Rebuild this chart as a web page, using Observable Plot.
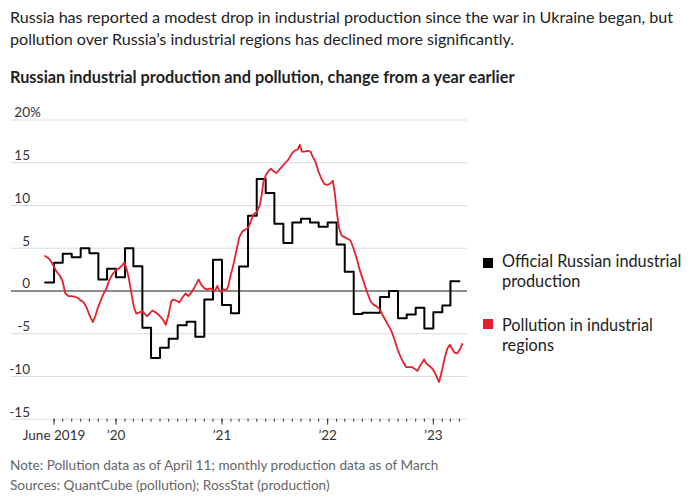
<!DOCTYPE html>
<html>
<head>
<meta charset="utf-8">
<script src="https://cdn.jsdelivr.net/npm/d3@7"></script>
<script src="https://cdn.jsdelivr.net/npm/@observablehq/plot@0.6"></script>
<style>
  body { margin:0; width:690px; height:502px; position:relative; background:#fff; font-family: Lato, "Noto Sans", sans-serif; overflow:hidden; }
  .abs { position:absolute; white-space:nowrap; }
  #title { left:10px; top:6px; font-size:16.1px; line-height:22px; color:#222; }
  #sub { left:10px; top:67px; font-size:16.3px; line-height:20px; font-weight:bold; color:#222; }
  #note { left:10px; top:455px; font-size:13.6px; line-height:20px; color:#666; }
  .leg { font-size:16.3px; line-height:20px; color:#222; }
  .sw { position:absolute; width:10px; height:10px; }
</style>
</head>
<body>
<div id="title" class="abs">Russia has reported a modest drop in industrial production since the war in Ukraine began, but<br>pollution over Russia’s industrial regions has declined more significantly.</div>
<div id="sub" class="abs">Russian industrial production and pollution, change from a year earlier</div>
<div id="chart" class="abs" style="left:0;top:100px;"></div>
<div class="sw" style="left:483px;top:258px;background:#000;"></div>
<div class="abs leg" style="left:502px;top:251px;">Official Russian industrial<br>production</div>
<div class="sw" style="left:483px;top:319px;background:#e6212d;"></div>
<div class="abs leg" style="left:502px;top:315px;">Pollution in industrial<br>regions</div>
<div id="note" class="abs">Note: Pollution data as of April 11; monthly production data as of March<br>Sources: QuantCube (pollution); RossStat (production)</div>
<script>
// Official Russian industrial production, % change from a year earlier (monthly)
const productionMonths = [
  "2019-05","2019-06","2019-07","2019-08","2019-09","2019-10","2019-11","2019-12",
  "2020-01","2020-02","2020-03","2020-04","2020-05","2020-06","2020-07","2020-08","2020-09","2020-10","2020-11","2020-12",
  "2021-01","2021-02","2021-03","2021-04","2021-05","2021-06","2021-07","2021-08","2021-09","2021-10","2021-11","2021-12",
  "2022-01","2022-02","2022-03","2022-04","2022-05","2022-06","2022-07","2022-08","2022-09","2022-10","2022-11","2022-12",
  "2023-01","2023-02","2023-03"
];
const productionValues = [
  1.0, 3.3, 4.35, 3.95, 5.0, 4.4, 1.35, 2.6,
  1.6, 5.0, 2.9, -4.3, -7.85, -6.65, -5.6, -4.0, -3.6, -5.35, -1.0, 3.65,
  -1.65, -2.6, 2.85, 8.8, 13.1, 11.45, 7.85, 5.6, 8.0, 8.45, 8.0, 7.5,
  8.0, 5.45, 2.25, -2.7, -2.55, -2.55, -0.7, 0.0, -3.2, -2.75, -1.95, -4.4,
  -2.5, -1.7, 1.15
];

// Pollution in industrial regions, % change from a year earlier
const pollutionDates = [
  "2019-05-01","2019-05-12","2019-05-19","2019-05-30","2019-06-09","2019-06-19","2019-06-30","2019-07-10","2019-07-20","2019-07-31",
  "2019-08-14","2019-08-24","2019-08-31","2019-09-10","2019-09-21","2019-10-01","2019-10-13","2019-10-22","2019-10-29","2019-11-08",
  "2019-11-18","2019-11-29","2019-12-09","2019-12-19","2019-12-30","2020-01-09","2020-01-20","2020-01-30","2020-02-08","2020-02-14",
  "2020-02-20","2020-02-27","2020-03-03","2020-03-11","2020-03-22","2020-04-01","2020-04-11","2020-04-18","2020-04-29","2020-05-06",
  "2020-05-16","2020-05-26","2020-06-06","2020-06-13","2020-06-21","2020-06-30","2020-07-10","2020-07-17","2020-07-28","2020-08-07",
  "2020-08-17","2020-08-28","2020-09-07","2020-09-17","2020-09-28","2020-10-12","2020-10-22","2020-11-01","2020-11-12","2020-11-22",
  "2020-12-02","2020-12-09","2020-12-16","2020-12-23","2020-12-30","2021-01-06","2021-01-16","2021-01-23","2021-01-30","2021-02-09",
  "2021-02-20","2021-03-02","2021-03-13","2021-03-23","2021-04-02","2021-04-09","2021-04-20","2021-04-30","2021-05-11","2021-05-17",
  "2021-05-24","2021-06-02","2021-06-10","2021-06-19","2021-06-28","2021-07-08","2021-07-18","2021-07-29","2021-08-08","2021-08-19",
  "2021-08-29","2021-09-08","2021-09-19","2021-09-27","2021-10-04","2021-10-13","2021-10-23","2021-11-03","2021-11-09","2021-11-20",
  "2021-11-30","2021-12-11","2021-12-21","2021-12-31","2022-01-11","2022-01-19","2022-01-26","2022-02-02","2022-02-09","2022-02-18",
  "2022-02-28","2022-03-11","2022-03-21","2022-03-31","2022-04-11","2022-04-21","2022-05-01","2022-05-12","2022-05-19","2022-05-29",
  "2022-06-08","2022-06-19","2022-06-29","2022-07-09","2022-07-20","2022-07-30","2022-08-09","2022-08-20","2022-08-30","2022-09-10",
  "2022-09-20","2022-09-29","2022-10-09","2022-10-18","2022-10-28","2022-11-07","2022-11-14","2022-11-21","2022-11-30","2022-12-08",
  "2022-12-19","2022-12-29","2023-01-09","2023-01-15","2023-01-21","2023-01-27","2023-02-03","2023-02-10","2023-02-19","2023-02-27",
  "2023-03-06","2023-03-15","2023-03-24","2023-03-31","2023-04-06","2023-04-11"
];
const pollutionValues = [
  4.1, 3.85, 3.6, 2.95, 2.3, 1.9, 1.2, -0.3, -0.6, -0.6,
  -0.7, -0.85, -1.1, -1.3, -1.9, -2.8, -3.65, -2.9, -2.1, -1.2,
  -0.4, 0.3, 1.3, 1.9, 2.4, 2.6, 2.9, 3.35, 2.4, 1.5,
  0.3, -1.0, -1.9, -2.65, -2.5, -2.4, -2.75, -2.95, -2.5, -2.3,
  -2.5, -2.75, -3.15, -3.45, -3.95, -2.85, -1.2, -1.0, -1.15, -1.35,
  -0.8, -0.3, -0.6, -0.2, 0.4, 1.35, 0.7, 0.3, 0.2, 0.3,
  0.05, 0.1, 0.6, 0.0, -0.1, 0.2, 0.1, 0.6, 1.7, 3.0,
  4.75, 6.3, 7.0, 7.2, 7.4, 8.0, 9.0, 9.15, 9.95, 11.0,
  12.7, 13.6, 14.0, 14.3, 14.0, 13.8, 14.2, 14.6, 15.0, 15.4,
  16.0, 16.4, 16.55, 17.1, 16.3, 16.3, 16.4, 16.3, 15.8, 15.1,
  14.0, 13.1, 12.5, 12.4, 12.6, 12.9, 11.35, 9.1, 7.4, 6.5,
  6.3, 6.1, 5.9, 5.0, 3.85, 2.55, 1.5, 0.4, -0.3, -1.2,
  -1.6, -1.8, -2.1, -2.75, -3.45, -4.05, -4.65, -5.7, -6.8, -7.7,
  -8.4, -8.9, -8.9, -8.9, -9.1, -9.35, -8.9, -8.5, -8.0, -8.5,
  -8.8, -9.1, -9.75, -10.25, -10.65, -9.85, -8.8, -7.7, -6.7, -6.3,
  -6.7, -7.2, -7.3, -7.0, -6.6, -6.2
];

// Axis ticks and labels
const yTicks = [-15, -10, -5, 0, 5, 10, 15, 20];
const xLabelDates = ["2019-06-01", "2020-01-01", "2021-01-01", "2022-01-01", "2023-01-01"];
const xLabels = ["June 2019", "’20", "’21", "’22", "’23"];
const xDomain = ["2019-01-05", "2023-04-29"];

const parse = s => new Date(s.length === 7 ? s + "-01T00:00:00Z" : s + "T00:00:00Z");

const production = productionMonths.map((m, i) => ({date: parse(m), value: productionValues[i]}));
// extend last month to the end of that month for the step line
const lastProd = production[production.length - 1];
const productionStep = production.concat([{date: d3.utcMonth.offset(lastProd.date, 1), value: lastProd.value}]);

const pollution = pollutionDates.map((d, i) => ({date: parse(d), value: pollutionValues[i]}));

const labelDates = xLabelDates.map(parse);
const labelMap = new Map(labelDates.map((d, i) => [+d, xLabels[i]]));
const monthTicks = d3.utcMonth.range(parse("2019-06-01"), parse("2023-04-02"));

const red = "#e6212d";

const chart = Plot.plot({
  width: 690,
  height: 350,
  marginLeft: 11,
  marginRight: 223,
  marginTop: 19.5,
  marginBottom: 31.3,
  style: {fontFamily: "Lato, 'Noto Sans', sans-serif", fontSize: "13.5px", color: "#333", background: "transparent", overflow: "visible"},
  x: {type: "utc", domain: xDomain.map(parse), axis: null},
  y: {domain: [-15, 20], axis: null},
  marks: [
    Plot.ruleY(yTicks.filter(d => d !== 0), {stroke: "#dcdcdc", strokeWidth: 1}),
    Plot.axisY(yTicks, {anchor: "left", tickSize: 0, tickPadding: 0, dx: 18.5, dy: -7, fill: "#333",
      tickFormat: d => String(d), label: null}),
    Plot.text([20], {y: d => d, frameAnchor: "left", text: () => "%", textAnchor: "start", dx: 18.5, dy: -7, fill: "#333"}),
    Plot.axisX(monthTicks, {anchor: "bottom", tickSize: 3, tickFormat: () => "", stroke: "#333", label: null}),
    Plot.axisX(labelDates, {anchor: "bottom", tickSize: 6, tickPadding: 5, stroke: "#333", fill: "#333",
      tickFormat: d => labelMap.get(+d), label: null}),
    Plot.ruleY([0], {stroke: "#666", strokeWidth: 1.5}),
    Plot.line(productionStep, {x: "date", y: "value", curve: "step-after", stroke: "#000", strokeWidth: 2}),
    Plot.line(pollution, {x: "date", y: "value", stroke: red, strokeWidth: 1.8})
  ]
});
document.getElementById("chart").appendChild(chart);
</script>
</body>
</html>
